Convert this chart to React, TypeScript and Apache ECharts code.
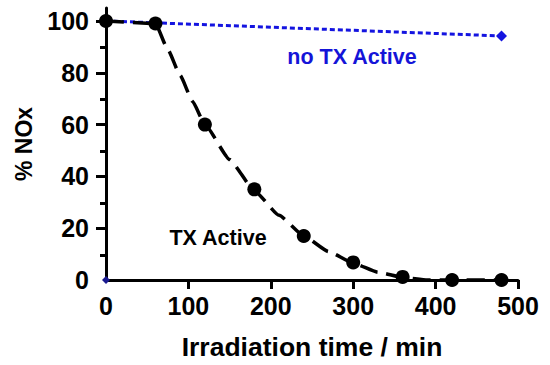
import React, { useEffect, useRef } from 'react';
import * as echarts from 'echarts';

// Measured data (TX Active)
const txTime = [0, 60, 120, 180, 240, 300, 360, 420, 480];
const txNOx = [100, 99, 60, 35, 17, 6.8, 1.2, 0, 0];
// Fitted curve
const fitTime = [0, 60, 75, 90, 105, 120, 150, 180, 210, 240, 270, 300, 330, 360, 390, 420, 480];
const fitNOx = [100, 99, 89, 79, 69, 60, 46.5, 34.5, 25, 17, 11, 6.5, 3, 1, 0, 0, 0];
// no TX Active
const noTxTime = [0, 480];
const noTxNOx = [100, 94.2];
const originTime = [0];
const originNOx = [0];

const yLabelValues = [0, 20, 40, 60, 80, 100];
const yMajorTicks = [20, 40, 60, 80, 100];
const yMinorTicks = [10, 30, 50, 70, 90];
const xLabelValues = [0, 100, 200, 300, 400, 500];
const xMajorTicks = [100, 200, 300, 400, 500];

const FONT = "'Liberation Sans', Arial, sans-serif";

export default function App() {
  const ref = useRef<HTMLDivElement>(null);
  useEffect(() => {
    if (!ref.current) return;
    const chart = echarts.init(ref.current, null, { renderer: 'svg' });
    const zip = (xs: number[], ys: number[]) => xs.map((x, i) => [x, ys[i]]);
    const gridBox = { left: 106, right: 32, top: 8, bottom: 84, containLabel: false };
    chart.setOption({
      animation: false,
      backgroundColor: '#fff',
      grid: [gridBox, { ...gridBox }],
      xAxis: [
        {
          type: 'value',
          gridIndex: 0,
          min: 0,
          max: 500,
          interval: 100,
          name: 'Irradiation time / min',
          nameLocation: 'middle',
          nameGap: 53,
          nameTextStyle: { fontFamily: FONT, fontWeight: 'bold', fontSize: 26.5, color: '#000' },
          axisLine: { onZero: false, lineStyle: { color: '#000', width: 3 } },
          axisTick: { customValues: xMajorTicks, length: 9, lineStyle: { color: '#000', width: 3 } },
          axisLabel: { customValues: xLabelValues, margin: 13, fontFamily: FONT, fontWeight: 'bold', fontSize: 25, color: '#000' },
          splitLine: { show: false },
        },
        {
          type: 'value',
          gridIndex: 1,
          min: 0,
          max: 500,
          show: false,
        },
      ],
      yAxis: [
        {
          type: 'value',
          gridIndex: 0,
          min: 0,
          max: 105,
          interval: 20,
          name: '% NOx',
          nameLocation: 'middle',
          nameGap: 71,
          nameRotate: 90,
          nameTextStyle: { fontFamily: FONT, fontWeight: 'bold', fontSize: 23, color: '#000' },
          axisLine: { onZero: false, lineStyle: { color: '#000', width: 3 } },
          axisTick: { customValues: yMajorTicks, length: 10, lineStyle: { color: '#000', width: 3 } },
          axisLabel: { customValues: yLabelValues, margin: 17, fontFamily: FONT, fontWeight: 'bold', fontSize: 25, color: '#000' },
          splitLine: { show: false },
        },
        {
          type: 'value',
          gridIndex: 1,
          min: 0,
          max: 105,
          interval: 10,
          position: 'left',
          axisLine: { show: false, onZero: false },
          axisTick: { customValues: yMinorTicks, length: 6, lineStyle: { color: '#000', width: 3 } },
          axisLabel: { show: false },
          splitLine: { show: false },
        },
      ],
      series: [
        {
          name: 'no TX Active',
          type: 'line',
          data: zip(noTxTime, noTxNOx),
          symbol: 'diamond',
          symbolSize: 11,
          itemStyle: { color: '#1414e0', opacity: 1 },
          lineStyle: { color: '#1414e0', width: 3, type: [5, 3] },
          z: 2,
        },
        {
          name: 'origin',
          type: 'scatter',
          data: zip(originTime, originNOx),
          symbol: 'diamond',
          symbolSize: 8,
          itemStyle: { color: '#1a1a90', opacity: 1 },
          z: 5,
        },
        {
          name: 'fit',
          type: 'line',
          data: zip(fitTime, fitNOx),
          showSymbol: false,
          symbol: 'none',
          smooth: 0.15,
          smoothMonotone: 'x',
          lineStyle: { color: '#000', width: 3.5, type: [18, 9] },
          z: 3,
        },
        {
          name: 'TX Active',
          type: 'scatter',
          data: zip(txTime, txNOx),
          symbol: 'circle',
          symbolSize: 14,
          itemStyle: { color: '#000', opacity: 1 },
          z: 4,
        },
      ],
      graphic: [
        {
          type: 'text',
          x: 352,
          y: 57,
          style: { text: 'no TX Active', fontFamily: FONT, fontWeight: 'bold', fontSize: 21.5, fill: '#1414d8', textAlign: 'center', textVerticalAlign: 'middle' },
        },
        {
          type: 'text',
          x: 218,
          y: 238,
          style: { text: 'TX Active', fontFamily: FONT, fontWeight: 'bold', fontSize: 21.5, fill: '#000', textAlign: 'center', textVerticalAlign: 'middle' },
        },
      ],
    });
    return () => chart.dispose();
  }, []);
  return <div ref={ref} style={{ position: 'absolute', left: 0, top: 0, width: 550, height: 365 }} />;
}
